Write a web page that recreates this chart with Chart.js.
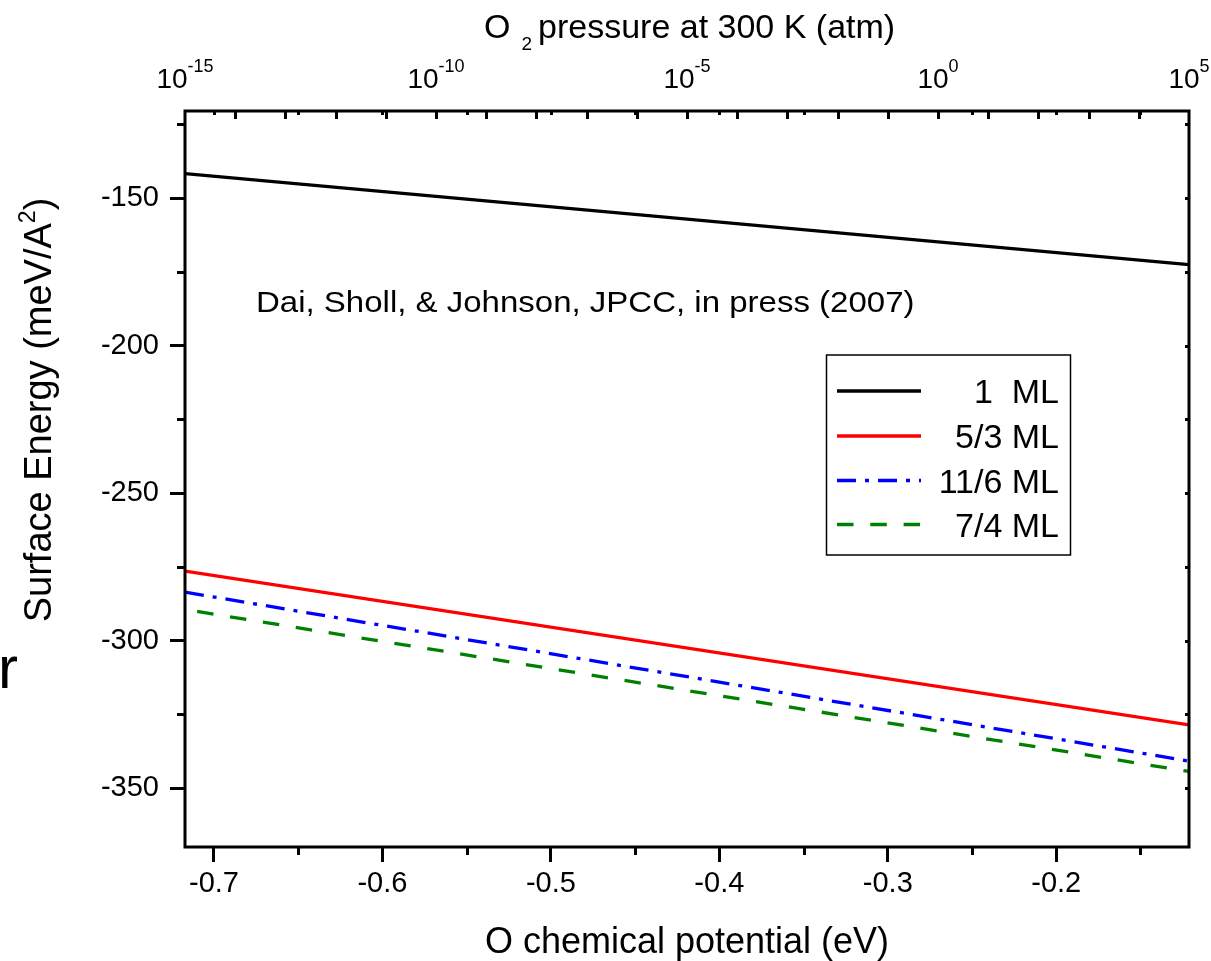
<!DOCTYPE html>
<html>
<head>
<meta charset="utf-8">
<script src="https://cdn.jsdelivr.net/npm/chart.js@4.4.1/dist/chart.umd.min.js"></script>
<style>
html, body { margin: 0; padding: 0; background: #ffffff; }
#wrap { width: 1211px; height: 961px; position: relative; }
canvas { display: block; }
</style>
</head>
<body>
<div id="wrap"><canvas id="c"></canvas></div>
<script>
// ---- data ----
const muRange = [-0.7172, -0.1212];          // O chemical potential range (eV), plot edges
const muPoints = [-0.7172, -0.1212];         // x values of the line end points
const seriesLabels = ['1  ML', '5/3 ML', '11/6 ML', '7/4 ML'];
const energy1ML = [-141.7, -172.6];
const energy53ML = [-276.5, -328.6];
const energy116ML = [-283.6, -340.9];
const energy74ML = [-289.5, -344.4];
const yRange = [-370, -120.5];
const yTicksMajor = [-350, -300, -250, -200, -150];
const yTicksMinor = [-325, -275, -225, -175, -125];
const xTicksMajor = [-0.7, -0.6, -0.5, -0.4, -0.3, -0.2];
const xTicksMinor = [-0.65, -0.55, -0.45, -0.35, -0.25, -0.15];
const pressureRange = [-15, 5];               // log10(p / atm) at plot edges
const pressureLabelExps = [-15, -10, -5, 0, 5];
const pressureTickExps = [-14, -13, -12, -11, -10, -9, -8, -7, -6, -5, -4, -3, -2, -1, 0, 1, 2, 3, 4];
const titleX = 'O chemical potential (eV)';
const titleTop = ['O', '2', 'pressure at 300 K (atm)'];
const titleY = ['Surface Energy (meV/A', '2', ')'];
const noteText = 'Dai, Sholl, & Johnson, JPCC, in press (2007)';
const strayText = 'r';

const FONT = '"Liberation Sans", Arial, sans-serif';

function pts(ys) { return muPoints.map((x, i) => ({ x: x, y: ys[i] })); }

const decor = {
  id: 'decor',
  afterDraw(chart) {
    const { ctx, chartArea: a, scales } = chart;
    const xs = scales.x, ys = scales.y, xt = scales.xTop;
    ctx.save();
    ctx.strokeStyle = '#000';
    ctx.fillStyle = '#000';
    ctx.lineCap = 'butt';
    ctx.lineWidth = 3;

    // minor ticks (outward)
    ctx.beginPath();
    xTicksMinor.forEach(v => { const p = Math.round(xs.getPixelForValue(v)) + 0.5; ctx.moveTo(p, a.bottom); ctx.lineTo(p, a.bottom + 8); });
    yTicksMinor.forEach(v => { const p = Math.round(ys.getPixelForValue(v)) + 0.5; ctx.moveTo(a.left, p); ctx.lineTo(a.left - 8, p); });
    ctx.stroke();

    // small mirrored ticks on top and right borders
    ctx.beginPath();
    xTicksMajor.concat(xTicksMinor).forEach(v => { const p = Math.round(xs.getPixelForValue(v)) + 0.5; ctx.moveTo(p, a.top); ctx.lineTo(p, a.top + 4); });
    yTicksMajor.concat(yTicksMinor).forEach(v => { const p = Math.round(ys.getPixelForValue(v)) + 0.5; ctx.moveTo(a.right, p); ctx.lineTo(a.right - 4, p); });
    ctx.stroke();

    // top (pressure) decade ticks, inward
    ctx.beginPath();
    pressureTickExps.forEach(e => { const p = Math.round(xt.getPixelForValue(e)) + 0.5; ctx.moveTo(p, a.top); ctx.lineTo(p, a.top + 8); });
    ctx.stroke();

    // frame
    ctx.lineWidth = 3;
    ctx.strokeRect(a.left, a.top, a.right - a.left, a.bottom - a.top);

    // top tick labels 10^n
    ctx.textBaseline = 'alphabetic';
    ctx.textAlign = 'left';
    pressureLabelExps.forEach(e => {
      const cx = xt.getPixelForValue(e);
      ctx.font = '28px ' + FONT;
      const w1 = ctx.measureText('10').width;
      ctx.font = '18px ' + FONT;
      const sup = String(e);
      const w2 = ctx.measureText(sup).width;
      const x0 = cx - (w1 + w2) / 2;
      ctx.font = '28px ' + FONT;
      ctx.fillText('10', x0, 88);
      ctx.font = '18px ' + FONT;
      ctx.fillText(sup, x0 + w1, 72);
    });

    // top title with subscript
    ctx.font = '34px ' + FONT;
    const wO = ctx.measureText(titleTop[0]).width;
    ctx.fillText(titleTop[0], 484, 38);
    ctx.font = '19px ' + FONT;
    const w2 = ctx.measureText(titleTop[1]).width;
    ctx.fillText(titleTop[1], 484 + wO + 11, 50);
    ctx.font = '34px ' + FONT;
    ctx.fillText(titleTop[2], 484 + wO + 11 + w2 + 6, 38);

    // bottom title
    ctx.font = '36px ' + FONT;
    ctx.textAlign = 'center';
    ctx.fillText(titleX, (a.left + a.right) / 2, 953);

    // y title, rotated, with superscript
    ctx.save();
    ctx.translate(51, 410);
    ctx.rotate(-Math.PI / 2);
    ctx.textAlign = 'left';
    ctx.font = '38px ' + FONT;
    const ya = ctx.measureText(titleY[0]).width;
    const yc = ctx.measureText(titleY[2]).width;
    ctx.font = '23px ' + FONT;
    const yb = ctx.measureText(titleY[1]).width;
    const ys0 = -(ya + yb + yc) / 2;
    ctx.font = '38px ' + FONT;
    ctx.fillText(titleY[0], ys0, 0);
    ctx.font = '23px ' + FONT;
    ctx.fillText(titleY[1], ys0 + ya, -16);
    ctx.font = '38px ' + FONT;
    ctx.fillText(titleY[2], ys0 + ya + yb, 0);
    ctx.restore();

    // annotation
    ctx.save();
    ctx.textAlign = 'left';
    ctx.font = '30px ' + FONT;
    ctx.translate(256, 312);
    ctx.scale(1.1, 1);
    ctx.fillText(noteText, 0, 0);
    ctx.restore();

    // stray glyph at the left edge
    ctx.textAlign = 'left';
    ctx.font = '60px ' + FONT;
    ctx.fillText(strayText, -2, 688);

    // legend box
    const lb = { l: 826.5, t: 355, r: 1070.5, b: 555 };
    ctx.fillStyle = '#fff';
    ctx.fillRect(lb.l, lb.t, lb.r - lb.l, lb.b - lb.t);
    ctx.lineWidth = 1.5;
    ctx.strokeStyle = '#000';
    ctx.strokeRect(lb.l, lb.t, lb.r - lb.l, lb.b - lb.t);
    const rows = [391, 436, 480.5, 524.5];
    chart.data.datasets.forEach((ds, i) => {
      const yy = rows[i];
      ctx.save();
      ctx.strokeStyle = ds.borderColor;
      ctx.lineWidth = 3.3;
      ctx.setLineDash(ds.borderDash || []);
      ctx.lineDashOffset = 0;
      ctx.beginPath();
      ctx.moveTo(837, yy);
      ctx.lineTo(921, yy);
      ctx.stroke();
      ctx.restore();
      ctx.fillStyle = '#000';
      ctx.textAlign = 'right';
      ctx.font = '34px ' + FONT;
      ctx.fillText(ds.label, 1059, yy + 12);
    });
    ctx.restore();
  }
};

new Chart(document.getElementById('c'), {
  type: 'line',
  data: {
    datasets: [
      { label: seriesLabels[0], data: pts(energy1ML), borderColor: '#000000', borderWidth: 3.3, pointRadius: 0, fill: false, tension: 0 },
      { label: seriesLabels[1], data: pts(energy53ML), borderColor: '#ff0000', borderWidth: 3.3, pointRadius: 0, fill: false, tension: 0 },
      { label: seriesLabels[2], data: pts(energy116ML), borderColor: '#0000ff', borderWidth: 3.3, pointRadius: 0, fill: false, tension: 0, borderDash: [19, 9, 4, 9] },
      { label: seriesLabels[3], data: pts(energy74ML), borderColor: '#008000', borderWidth: 3.3, pointRadius: 0, fill: false, tension: 0, borderDash: [16.5, 16.8], borderDashOffset: 21 }
    ]
  },
  options: {
    responsive: true,
    maintainAspectRatio: false,
    animation: false,
    events: [],
    layout: { padding: { left: 0, right: 22, top: 111, bottom: 0 } },
    plugins: { legend: { display: false }, tooltip: { enabled: false } },
    scales: {
      x: {
        type: 'linear', position: 'bottom', min: muRange[0], max: muRange[1],
        afterBuildTicks: s => { s.ticks = xTicksMajor.map(v => ({ value: v })); },
        afterFit: s => { s.height = 114; },
        grid: { display: true, drawOnChartArea: false, drawTicks: true, tickLength: 15, tickWidth: 3, tickColor: '#000' },
        border: { display: false },
        ticks: { color: '#000', padding: 5, maxRotation: 0, autoSkip: false, font: { family: FONT, size: 29 }, callback: v => Number(v).toFixed(1) }
      },
      xTop: {
        type: 'linear', position: 'top', display: false, min: pressureRange[0], max: pressureRange[1]
      },
      y: {
        type: 'linear', position: 'left', min: yRange[0], max: yRange[1],
        afterBuildTicks: s => { s.ticks = yTicksMajor.map(v => ({ value: v })); },
        afterFit: s => { s.width = 185; },
        grid: { display: true, drawOnChartArea: false, drawTicks: true, tickLength: 15, tickWidth: 3, tickColor: '#000' },
        border: { display: false },
        ticks: { color: '#000', padding: 11, autoSkip: false, font: { family: FONT, size: 29 }, callback: v => String(v) }
      }
    }
  },
  plugins: [decor]
});
</script>
</body>
</html>
